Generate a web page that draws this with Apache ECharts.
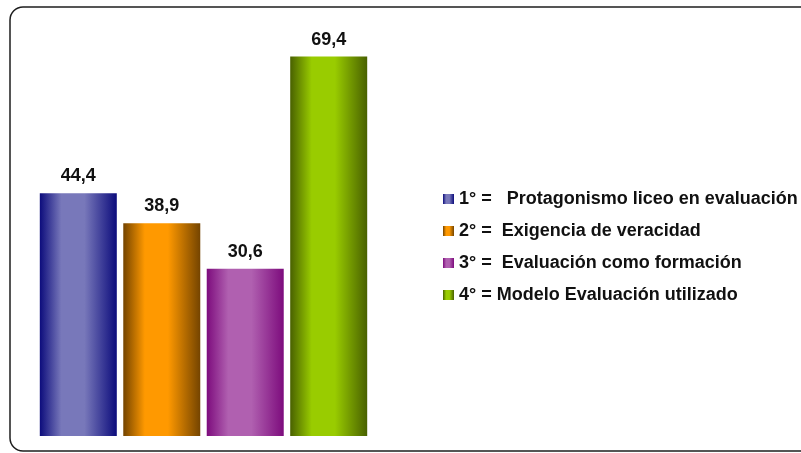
<!DOCTYPE html>
<html>
<head>
<meta charset="utf-8">
<script src="https://cdn.jsdelivr.net/npm/echarts@6/dist/echarts.min.js"></script>
<style>
html,body{margin:0;padding:0;background:#fff;}
#chart{width:801px;height:453px;}
</style>
</head>
<body>
<div id="chart"></div>
<script>
// Data
var seriesNames = [
  '1° =   Protagonismo liceo en evaluación',
  '2° =  Exigencia de veracidad',
  '3° =  Evaluación como formación',
  '4° = Modelo Evaluación utilizado'
];
var values = [44.4, 38.9, 30.6, 69.4];
var categories = [''];

// Styles (dark edge, light centre)
var palette = [
  ['#0c0c7c', '#7878ba'],
  ['#744400', '#ff9900'],
  ['#7d0c7d', '#b060b0'],
  ['#496100', '#99cc00']
];

function grad(c) {
  return new echarts.graphic.LinearGradient(0, 0, 1, 0, [
    {offset: 0, color: c[0]},
    {offset: 0.28, color: c[1]},
    {offset: 0.58, color: c[1]},
    {offset: 1, color: c[0]}
  ]);
}

var FONT = '"Liberation Sans", Arial, sans-serif';

var series = seriesNames.map(function (name, i) {
  return {
    name: name,
    type: 'bar',
    data: [values[i]],
    barWidth: 77,
    barGap: '8.4%',
    itemStyle: {color: grad(palette[i])},
    label: {
      show: true,
      position: 'top',
      distance: 8,
      fontFamily: FONT,
      fontWeight: 'bold',
      fontSize: 18,
      color: '#111',
      formatter: function (p) { return String(p.value).replace('.', ','); }
    },
    emphasis: {disabled: true}
  };
});

var chart = echarts.init(document.getElementById('chart'), null, {renderer: 'canvas'});
chart.setOption({
  animation: false,
  backgroundColor: '#ffffff',
  graphic: [{
    type: 'rect',
    shape: {x: 10, y: 7, width: 805, height: 444, r: 13},
    style: {fill: 'none', stroke: '#1e1e1e', lineWidth: 1.5},
    silent: true
  }],
  grid: {left: 39, top: 26, width: 329, height: 410, containLabel: false},
  xAxis: {
    type: 'category',
    data: categories,
    show: false
  },
  yAxis: {
    type: 'value',
    min: 0,
    max: 75,
    show: false,
    splitLine: {show: false}
  },
  legend: {
    orient: 'vertical',
    left: 443,
    top: 190,
    padding: 0,
    itemWidth: 11,
    itemHeight: 10,
    itemGap: 14,
    icon: 'rect',
    selectedMode: false,
    textStyle: {
      fontFamily: FONT,
      fontWeight: 'bold',
      fontSize: 18,
      color: '#111'
    },
    data: seriesNames
  },
  series: series
});
</script>
</body>
</html>
